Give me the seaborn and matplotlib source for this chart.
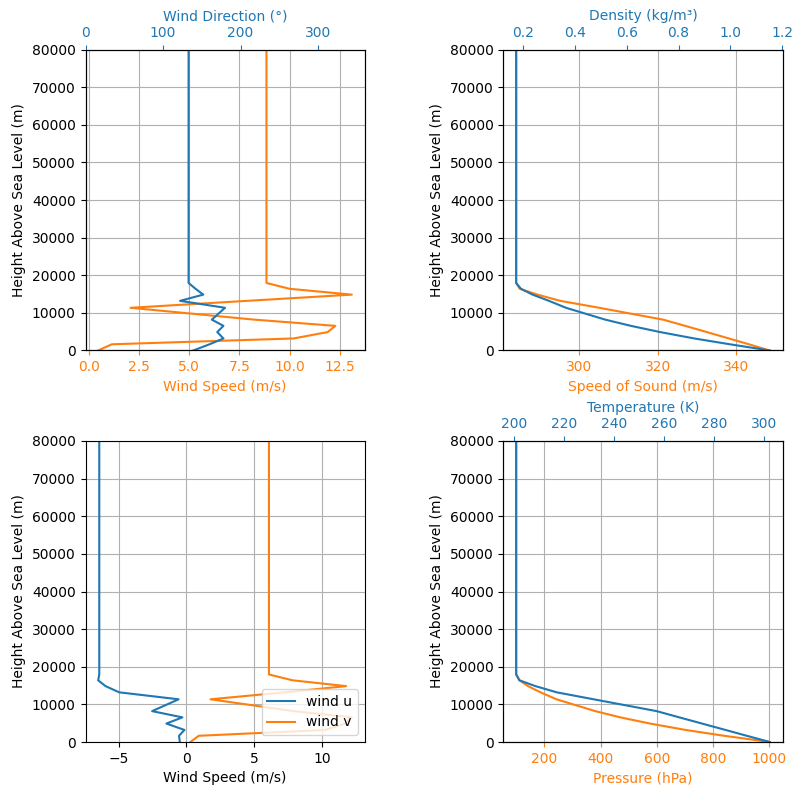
import matplotlib
matplotlib.use("Agg")
import matplotlib.pyplot as plt
import seaborn as sns

BLUE = "#1f77b4"
ORANGE = "#ff7f0e"

# profile levels (m), last level = constant extrapolation to the top
heights = [0, 1650, 3200, 4900, 6550, 8200, 11350, 13200, 14850, 16400, 17950, 80000]

# wind
wind_speed = [0.47, 1.15, 10.2, 11.9, 12.28, 8.25, 2.08, 7.9, 13.1, 10.0, 8.85, 8.85]
wind_direction = [139, 160, 178, 170, 178, 163, 180, 122, 152, 142, 133, 133]
wind_u = [-0.49, -0.55, -0.15, -1.48, -0.30, -2.53, -0.58, -4.95, -5.96, -6.50, -6.42, -6.42]
wind_v = [0.29, 0.90, 10.2, 11.7, 12.17, 7.9, 1.77, 7.2, 11.75, 7.8, 6.07, 6.07]

# thermodynamics
speed_of_sound = [348.5, 343.2, 338.1, 332.5, 327.0, 321.4, 305.2, 295.3, 289.5, 285.0, 284.1, 284.1]
density = [1.153, 0.999, 0.861, 0.729, 0.616, 0.517, 0.365, 0.299, 0.236, 0.191, 0.1725, 0.1725]
pressure = [1002.4, 840, 703, 576, 470, 381, 243, 186, 141.5, 111, 99.4, 99.4]
temperature = [302.2, 293.0, 284.5, 275.1, 266.0, 257.0, 231.8, 217.0, 208.5, 202.1, 200.8, 200.8]

W, H = 802, 796
fig = plt.figure(figsize=(W / 100, H / 100), dpi=100)


def make_ax(left_px, bottom_px):
    return fig.add_axes([left_px / W, (H - bottom_px) / H, 279 / W, 301 / H])


def line(ax, x, color, label=None):
    sns.lineplot(x=x, y=heights, sort=False, estimator=None, color=color,
                 linewidth=1.5, label=label, legend=False, ax=ax)


def finish(ax):
    ax.set_ylim(0, 80000)
    ax.set_ylabel("Height Above Sea Level (m)")
    ax.grid(True)


def twin_top(ax, x, xlabel):
    up = ax.twiny()
    line(up, x, BLUE)
    up.set_xlabel(xlabel, color=BLUE)
    up.tick_params("x", colors=BLUE)
    up.set_ylim(0, 80000)
    return up


# 1) wind speed / direction
ax1 = make_ax(85.5, 350.5)
line(ax1, wind_speed, ORANGE)
ax1.set_xlabel("Wind Speed (m/s)", color=ORANGE)
ax1.tick_params("x", colors=ORANGE)
finish(ax1)
ax1up = twin_top(ax1, wind_direction, "Wind Direction (°)")
ax1up.set_xlim(0, 360)

# 2) speed of sound / density
ax2 = make_ax(503.5, 350.5)
line(ax2, speed_of_sound, ORANGE)
ax2.set_xlabel("Speed of Sound (m/s)", color=ORANGE)
ax2.tick_params("x", colors=ORANGE)
finish(ax2)
twin_top(ax2, density, "Density (kg/m³)")

# 3) wind components
ax3 = make_ax(85.5, 742)
line(ax3, wind_u, BLUE, label="wind u")
line(ax3, wind_v, ORANGE, label="wind v")
ax3.set_xlabel("Wind Speed (m/s)")
finish(ax3)
ax3.legend(loc="lower right")

# 4) pressure / temperature
ax4 = make_ax(503.5, 742)
line(ax4, pressure, ORANGE)
ax4.set_xlabel("Pressure (hPa)", color=ORANGE)
ax4.tick_params("x", colors=ORANGE)
finish(ax4)
twin_top(ax4, temperature, "Temperature (K)")

fig.savefig("out.png", dpi=100)
